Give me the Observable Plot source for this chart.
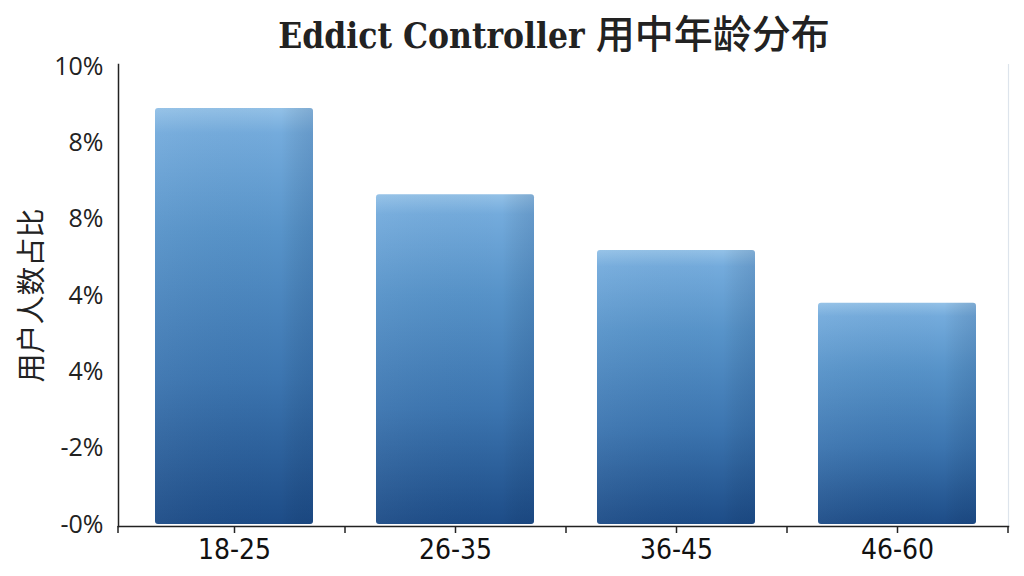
<!DOCTYPE html>
<html>
<head>
<meta charset="utf-8">
<script src="https://cdn.jsdelivr.net/npm/d3@7"></script>
<script src="https://cdn.jsdelivr.net/npm/@observablehq/plot@0.6"></script>
<style>
  html, body { margin: 0; padding: 0; background: #ffffff; }
  #wrap { width: 1024px; height: 576px; position: relative; overflow: hidden; background: #fff; }
  #title { height: 56px; width: 1024px; text-align: center; line-height: 62px; color: #222; padding-left: 84px; box-sizing: border-box; white-space: nowrap; font-size: 35px; }
  #title .lat { font-family: "DejaVu Serif Condensed", "DejaVu Serif", serif; font-weight: bold; font-size: 35px; }
  #title .cjk { font-family: "Noto Sans CJK SC", sans-serif; font-weight: 500; font-size: 39px; }
  svg { display: block; }
</style>
</head>
<body>
<div id="wrap">
  <div id="title"><span class="lat">Eddict Controller&nbsp;</span><span class="cjk">用中年龄分布</span></div>
  <div id="chart"></div>
</div>
<script>
const titleText = "Eddict Controller 用中年龄分布";
const yLabel = "用户人数占比";
const ageGroups = ["18-25", "26-35", "36-45", "46-60"];
const shares = [5.45, 4.32, 3.59, 2.90];
const yTicks = [0, 1, 2, 3, 4, 5, 6];
const yTickLabels = ["-0%", "-2%", "4%", "4%", "8%", "8%", "10%"];

const data = ageGroups.map((g, i) => ({group: g, value: shares[i]}));

const W = 1024, H = 520, mL = 118, mR = 16, mT = 8, mB = 50, inL = 6;
const step = (W - mR - mL - inL) / ageGroups.length;

const chart = Plot.plot({
  width: W,
  height: H,
  marginLeft: mL,
  marginRight: mR,
  marginTop: mT,
  marginBottom: mB,
  style: {background: "transparent", overflow: "visible"},
  x: {domain: ageGroups, paddingInner: 0.285, paddingOuter: 0.1425, insetLeft: inL, label: null},
  y: {domain: [0, 6], insetTop: 2, insetBottom: 2, label: null},
  marks: [
    Plot.barY(data, {x: "group", y: "value", fill: "url(#barGrad)", rx: 3}),
    Plot.barY(data, {x: "group", y: "value", fill: "url(#barShade)", rx: 3}),
    Plot.frame({anchor: "right", stroke: "#dde4ec", strokeWidth: 1.2}),
    Plot.frame({anchor: "left", stroke: "#222", strokeWidth: 1.5}),
    Plot.frame({anchor: "bottom", stroke: "#222", strokeWidth: 1.5}),
    Plot.axisY({ticks: yTicks, tickFormat: (d) => yTickLabels[yTicks.indexOf(d)], tickSize: 0, tickPadding: 15, fontSize: 25, fill: "#222", label: null, fontFamily: "Open Sans, DejaVu Sans, sans-serif"}),
    Plot.axisX({tickSize: 7, tickPadding: 6, fontSize: 28, fill: "#111", label: null, fontFamily: "DejaVu Sans Condensed, Liberation Sans Narrow, sans-serif", stroke: "#222", strokeWidth: 1.5}),
    Plot.axisX({tickSize: 7, tickFormat: () => "", dx: step / 2, label: null, stroke: "#222", strokeWidth: 1.5}),
    Plot.axisX({ticks: [ageGroups[0]], tickSize: 7, tickFormat: () => "", dx: -step / 2 - inL, label: null, stroke: "#222", strokeWidth: 1.5}),
    Plot.text([yLabel], {frameAnchor: "left", textAnchor: "middle", rotate: -90, dx: -86, fontSize: 29, fill: "#222", fontFamily: "Noto Sans CJK SC, sans-serif"})
  ]
});

const svg = d3.select(chart);
const defs = svg.insert("defs", ":first-child");
const g1 = defs.append("linearGradient").attr("id", "barGrad").attr("x1", 0).attr("y1", 0).attr("x2", 0).attr("y2", 1);
g1.append("stop").attr("offset", "0%").attr("stop-color", "#93c1e7");
g1.append("stop").attr("offset", "6%").attr("stop-color", "#74abdc");
g1.append("stop").attr("offset", "30%").attr("stop-color", "#5793c9");
g1.append("stop").attr("offset", "65%").attr("stop-color", "#3c75b0");
g1.append("stop").attr("offset", "100%").attr("stop-color", "#1d4c87");
const g2 = defs.append("linearGradient").attr("id", "barShade").attr("x1", 0).attr("y1", 0).attr("x2", 1).attr("y2", 0);
g2.append("stop").attr("offset", "0%").attr("stop-color", "#ffffff").attr("stop-opacity", 0.04);
g2.append("stop").attr("offset", "80%").attr("stop-color", "#000000").attr("stop-opacity", 0);
g2.append("stop").attr("offset", "100%").attr("stop-color", "#0a2a5a").attr("stop-opacity", 0.14);

document.getElementById("chart").appendChild(chart);
</script>
</body>
</html>
